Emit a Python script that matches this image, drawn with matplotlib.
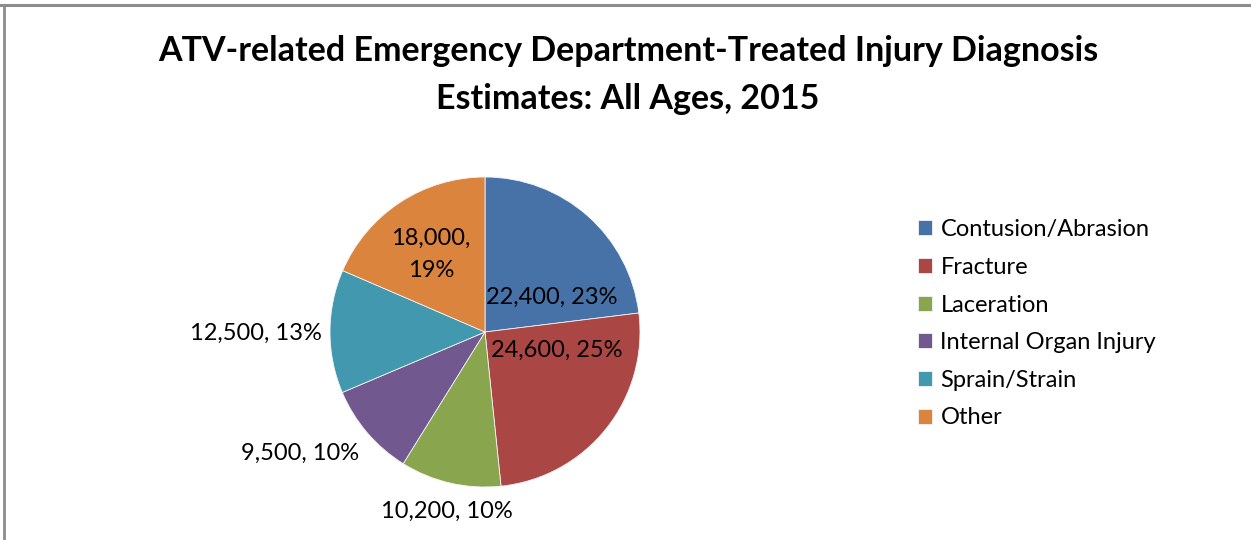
import matplotlib
matplotlib.use("Agg")
import matplotlib.pyplot as plt
import numpy as np

# Injury diagnosis estimates (ATV-related ED visits, all ages, 2015)
categories = ["Contusion/Abrasion", "Fracture", "Laceration",
              "Internal Organ Injury", "Sprain/Strain", "Other"]
estimates = [22400, 24600, 10200, 9500, 12500, 18000]
percent_labels = ["23%", "25%", "10%", "10%", "13%", "19%"]
colors = ["#4672A8", "#AA4643", "#89A54E", "#71588F", "#4198AF", "#DB843D"]

FONT = "Lato"
W, H = 1251, 540
fig = plt.figure(figsize=(W / 100, H / 100), dpi=100)
fig.patch.set_facecolor("white")

# Frame lines along the top and left edge
fig.add_artist(plt.Line2D([0, 1], [1 - 4.5 / H, 1 - 4.5 / H], color="#8c8c8c",
                          lw=2.2, transform=fig.transFigure))
fig.add_artist(plt.Line2D([4 / W, 4 / W], [0, 1 - 4.5 / H], color="#8c8c8c",
                          lw=2.0, transform=fig.transFigure))

fig.text(628 / W, 1 - 75 / H,
         "ATV-related Emergency Department-Treated Injury Diagnosis\nEstimates: All Ages, 2015",
         ha="center", va="center", fontsize=24.5, fontweight="bold",
         family=FONT, linespacing=1.62)

# Pie axes: square in pixels so radius 1 maps to 155 px
cx, cy, r = 485, 540 - 332, 155
ax = fig.add_axes([(cx - r) / W, (cy - r) / H, 2 * r / W, 2 * r / H])
wedges, _ = ax.pie(estimates, colors=colors, startangle=90, counterclock=False,
                   radius=1, wedgeprops=dict(edgecolor="#f4f4f4", linewidth=0.6))
ax.set_xlim(-1, 1)
ax.set_ylim(-1, 1)
ax.axis("off")

# Data labels: value, percentage
label_text = [f"{v:,}, {p}" for v, p in zip(estimates, percent_labels)]
label_text[5] = f"{estimates[5]:,},\n{percent_labels[5]}"
label_pos = [(0.43, 0.226), (0.46, -0.116), (-0.245, -1.16),
             (-1.19, -0.78), (-1.48, -0.01), (-0.35, 0.50)]
for txt, (x, y) in zip(label_text, label_pos):
    ax.text(x, y, txt, ha="center", va="center", fontsize=17, family=FONT,
            color="black", clip_on=False, linespacing=1.65)

# Legend
leg = fig.legend(wedges, categories, loc="upper left",
                 bbox_to_anchor=(897 / W, 1 - 198 / H), frameon=False,
                 prop=dict(family=FONT, size=17), handlelength=0.6,
                 handleheight=0.6, handletextpad=0.34, labelspacing=0.705,
                 borderpad=0.4)

fig.savefig("out.png", dpi=100, facecolor="white")
